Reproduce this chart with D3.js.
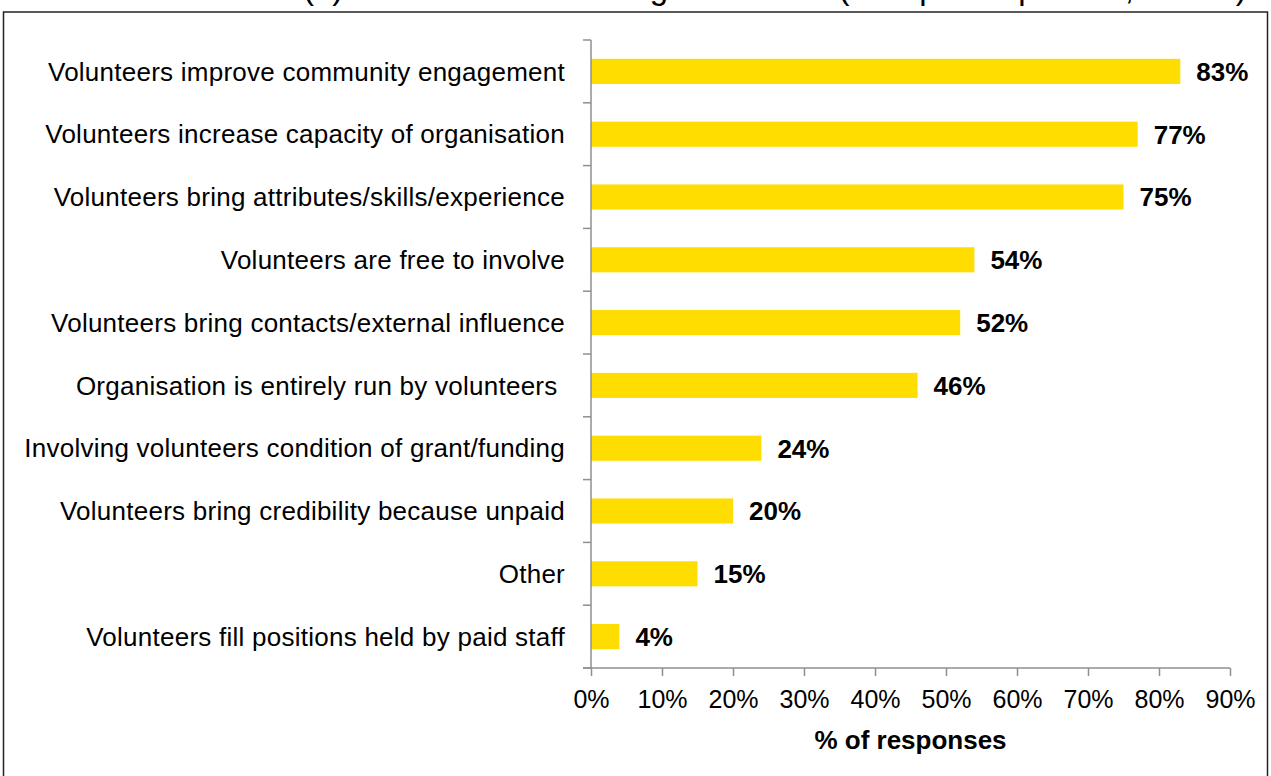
<!DOCTYPE html>
<html>
<head>
<meta charset="utf-8">
<script src="https://cdn.jsdelivr.net/npm/d3@7"></script>
<style>
  html, body { margin: 0; padding: 0; background: #fff; overflow: hidden; }
  svg { display: block; font-family: Arial, "Liberation Sans", sans-serif; }
</style>
</head>
<body>
<svg id="chart" width="1271" height="776"></svg>
<script>
const categories = [
  "Volunteers improve community engagement",
  "Volunteers increase capacity of organisation",
  "Volunteers bring attributes/skills/experience",
  "Volunteers are free to involve",
  "Volunteers bring contacts/external influence",
  "Organisation is entirely run by volunteers ",
  "Involving volunteers condition of grant/funding",
  "Volunteers bring credibility because unpaid",
  "Other",
  "Volunteers fill positions held by paid staff"
];
const values = [83, 77, 75, 54, 52, 46, 24, 20, 15, 4];
const xTicks = [0, 10, 20, 30, 40, 50, 60, 70, 80, 90];
const titleText = "(b) Reasons for involving volunteers (multiple responses, n=137)";
const xAxisTitle = "% of responses";

(function () {
const svg = d3.select("#chart");

// outer frame
svg.append("rect")
  .attr("x", 3.5).attr("y", 12).attr("width", 1264).attr("height", 800)
  .attr("fill", "none").attr("stroke", "#222").attr("stroke-width", 1.5);

// title (mostly cut off at top, as in the reference)
svg.append("text")
  .attr("x", 303).attr("y", -1)
  .attr("font-size", 33)
  .attr("fill", "#000")
  .text(titleText);

const pLeft = 591, pRight = 1230, pTop = 40, pBottom = 668;

const x = d3.scaleLinear().domain([0, 90]).range([pLeft, pRight]);
const y = d3.scaleBand().domain(categories).range([pTop, pBottom])
  .paddingInner(0.6).paddingOuter(0.3);

// bars
svg.append("g").selectAll("rect")
  .data(values)
  .join("rect")
  .attr("x", x(0))
  .attr("y", (d, i) => y(categories[i]))
  .attr("width", d => x(d) - x(0))
  .attr("height", y.bandwidth())
  .attr("fill", "#FFDD00");

// value labels
svg.append("g").selectAll("text")
  .data(values)
  .join("text")
  .attr("x", d => x(d) + 16)
  .attr("y", (d, i) => y(categories[i]) + y.bandwidth() / 2)
  .attr("dy", "0.36em")
  .attr("font-size", 26)
  .attr("font-weight", "bold")
  .attr("fill", "#000")
  .text(d => d + "%");

// y axis: line + boundary ticks
const axisColor = "#8f8f8f";
const step = y.step();
const yAxisG = svg.append("g");
yAxisG.append("line")
  .attr("x1", pLeft).attr("x2", pLeft).attr("y1", pTop).attr("y2", pBottom)
  .attr("stroke", axisColor).attr("stroke-width", 1.5);
const boundaries = d3.range(categories.length + 1).map(i => pTop + i * step);
yAxisG.selectAll("line.tk")
  .data(boundaries)
  .join("line")
  .attr("class", "tk")
  .attr("x1", pLeft - 8).attr("x2", pLeft)
  .attr("y1", d => d).attr("y2", d => d)
  .attr("stroke", axisColor).attr("stroke-width", 1.5);

// category labels
svg.append("g").selectAll("text")
  .data(categories)
  .join("text")
  .attr("x", pLeft - 26)
  .attr("y", d => y(d) + y.bandwidth() / 2)
  .attr("dy", "0.35em")
  .attr("text-anchor", "end")
  .attr("font-size", 26)
  .attr("letter-spacing", 0.25)
  .attr("fill", "#000")
  .style("white-space", "pre")
  .text(d => d);

// x axis
const xAxis = d3.axisBottom(x)
  .tickValues(xTicks)
  .tickFormat(d => d + "%")
  .tickSize(8)
  .tickPadding(14);
const xg = svg.append("g").attr("transform", `translate(0,${pBottom})`).call(xAxis);
xg.select(".domain").attr("stroke", axisColor).attr("stroke-width", 1.5)
  .attr("d", `M${pLeft - 8},0H${pRight}`);
xg.selectAll(".tick line").attr("stroke", axisColor).attr("stroke-width", 1.5);
xg.selectAll(".tick text")
  .attr("font-size", 25)
  .attr("font-family", "Arial, 'Liberation Sans', sans-serif")
  .attr("fill", "#000");

// x axis title
svg.append("text")
  .attr("x", (pLeft + pRight) / 2)
  .attr("y", 749)
  .attr("text-anchor", "middle")
  .attr("font-size", 26)
  .attr("font-weight", "bold")
  .attr("fill", "#000")
  .text(xAxisTitle);
})();
</script>
</body>
</html>
